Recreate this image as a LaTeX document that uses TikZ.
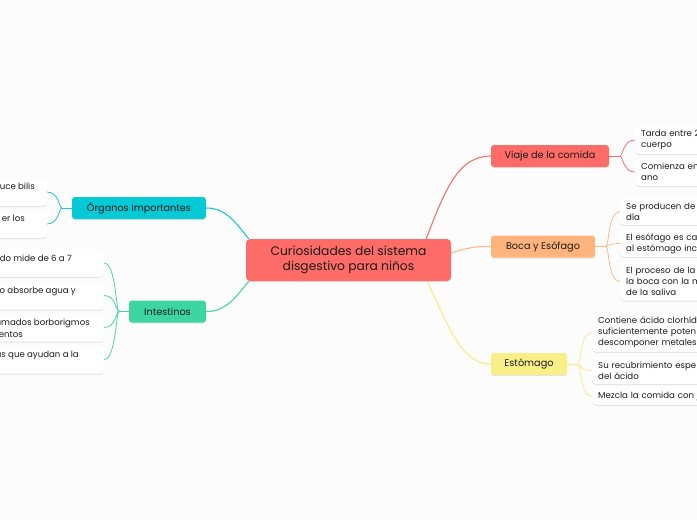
\documentclass[tikz,border=0pt]{standalone}
\usepackage{fontspec}
\setmainfont{Poppins}
\usetikzlibrary{shadows,calc}
\definecolor{bg}{HTML}{FCFCFC}
\definecolor{cred}{HTML}{FF6B66}
\definecolor{cora}{HTML}{FFB47E}
\definecolor{cyel}{HTML}{F8EF88}
\definecolor{ccya}{HTML}{05C9D4}
\definecolor{cgre}{HTML}{3DD6A2}
\definecolor{lred}{HTML}{F7706B}
\definecolor{lora}{HTML}{FFB985}
\definecolor{lyel}{HTML}{F7EC85}
\definecolor{lcya}{HTML}{1CC8D4}
\definecolor{lgre}{HTML}{45D6A6}
\definecolor{txt}{HTML}{1C1C1C}
\begin{document}
\begin{tikzpicture}[x=1pt,y=-1pt,
  shade/.style={drop shadow={shadow xshift=0pt,shadow yshift=-1pt,opacity=0.10,fill=black}},
  central/.style={rectangle,rounded corners=4pt,fill=cred,text=txt,inner sep=0pt,
    minimum width=205pt,minimum height=42pt,align=center,
    font=\fontsize{12.3}{15}\selectfont,shade},
  mainnode/.style={rectangle,rounded corners=3pt,text=txt,inner sep=0pt,
    minimum height=22pt,font=\fontsize{9.7}{11}\selectfont,shade},
  leaf/.style={rectangle,rounded corners=4pt,fill=white,inner xsep=6pt,inner ysep=0pt,
    anchor=west,align=left,text width=200pt,text=txt,
    font=\fontsize{8.6}{11}\selectfont,shade},
  leafbox/.style={rectangle,rounded corners=4pt,fill=white,inner sep=0pt,
    anchor=east,minimum width=200pt,shade},
  lefttext/.style={anchor=base east,text=txt,inner sep=0pt,font=\fontsize{8.6}{11}\selectfont},
  mainline/.style={line width=1.1pt},
  leafline/.style={line width=0.8pt}
]
\useasboundingbox (0,0) rectangle (697,520);
\clip (0,0) rectangle (697,520);
\fill[bg] (0,0) rectangle (697,520);

% central
\node[central] (c) at (348.5,260) {Curiosidades del sistema\\ disgestivo para niños};

% main nodes
\node[mainnode,fill=cred,minimum width=118pt] (viaje) at (550,156) {Viaje de la comida};
\node[mainnode,fill=cora,minimum width=104pt] (boca) at (543,246.5) {Boca y Esófago};
\node[mainnode,fill=cyel,minimum width=76pt] (esto) at (529,364) {Estómago};
\node[mainnode,fill=ccya,minimum width=134pt] (org) at (139,208) {Órganos Importantes};
\node[mainnode,fill=cgre,minimum width=77pt] (int) at (167.5,311.5) {Intestinos};

% main connectors
\coordinate (cv) at ($(c.north east)+(-25,0)$);
\coordinate (cb) at ($(c.east)+(0,-7)$);
\coordinate (ce) at ($(c.south east)+(-24,0)$);
\coordinate (co) at ($(c.north west)+(3,0)$);
\coordinate (ci) at ($(c.south west)+(3,0)$);
\draw[mainline,lred] (cv) .. controls (445,190) and (458,156) .. (viaje.west);
\draw[mainline,lora] (cb) .. controls (470,247) and (475,246.5) .. (boca.west);
\draw[mainline,lyel] (ce) .. controls (450,330) and (462,364) .. (esto.west);
\draw[mainline,lcya] (co) .. controls (235,222) and (226,208) .. (org.east);
\draw[mainline,lgre] (ci) .. controls (235,298) and (226,311.5) .. (int.east);

% right leaves: Viaje
\node[leaf,minimum height=28pt] (v1) at (635,140) {Tarda entre 2\\cuerpo};
\node[leaf,minimum height=28pt] (v2) at (635,172) {Comienza en\\ano};
% Boca
\node[leaf,minimum height=27pt] (b1) at (620,211.5) {Se producen de 1\\día};
\node[leaf,minimum height=27pt] (b2) at (620,243.5) {El esófago es ca\\al estómago incl};
\node[leaf,minimum height=38pt] (b3) at (620,281.5) {El proceso de la\\la boca con la m\\de la saliva};
% Estomago
\node[leaf,minimum height=39pt] (e1) at (592,332.5) {Contiene ácido clorhídr\\suficientemente poten\\descomponer metales};
\node[leaf,minimum height=27pt] (e2) at (592,370.5) {Su recubrimiento espe\\del ácido};
\node[leaf,minimum height=17pt] (e3) at (592,396.5) {Mezcla la comida con j};

% left leaves: Organos
\node[leafbox,minimum height=28pt] (o1) at (47,192) {};
\node[leafbox,minimum height=28pt] (o2) at (47,224) {};
\node[lefttext] (o1t) at (35,189.5) {uce bilis};
\node[lefttext] (o2t) at (25,221.5) {er los};
% Intestinos
\node[leafbox,minimum height=28pt] (i1) at (104,263) {};
\node[leafbox,minimum height=28pt] (i2) at (104,295.5) {};
\node[leafbox,minimum height=28pt] (i3) at (104,327.5) {};
\node[leafbox,minimum height=28pt] (i4) at (104,359.5) {};
\node[lefttext] (i1t) at (72,261) {do mide de 6 a 7};
\node[lefttext] (i2t) at (76,293) {o absorbe agua y};
\node[lefttext] (i3t) at (90,325) {amados borborigmos};
\node[lefttext] (i3u) at (23,337) {entos};
\node[lefttext] (i4t) at (79,357) {as que ayudan a la};

% junctions
\coordinate (jv) at (620,156);
\coordinate (jb) at (606,246.5);
\coordinate (je) at (578,364);
\coordinate (jo) at (62,208);
\coordinate (ji) at (119,311.5);

\draw[leafline,lred] (viaje.east) -- (jv);
\foreach \n in {v1,v2} \draw[leafline,lred] (jv) .. controls +(3,0) and ($(\n.west)+(-12,0)$) .. (\n.west);
\draw[leafline,lora] (boca.east) -- (jb);
\foreach \n in {b1,b2,b3} \draw[leafline,lora] (jb) .. controls +(3,0) and ($(\n.west)+(-12,0)$) .. (\n.west);
\draw[leafline,lyel] (esto.east) -- (je);
\foreach \n in {e1,e2,e3} \draw[leafline,lyel] (je) .. controls +(3,0) and ($(\n.west)+(-12,0)$) .. (\n.west);
\draw[leafline,lcya] (org.west) -- (jo);
\foreach \n in {o1,o2} \draw[leafline,lcya] (jo) .. controls +(-3,0) and ($(\n.east)+(12,0)$) .. (\n.east);
\draw[leafline,lgre] (int.west) -- (ji);
\foreach \n in {i1,i2,i3,i4} \draw[leafline,lgre] (ji) .. controls +(-3,0) and ($(\n.east)+(12,0)$) .. (\n.east);
\end{tikzpicture}
\end{document}
